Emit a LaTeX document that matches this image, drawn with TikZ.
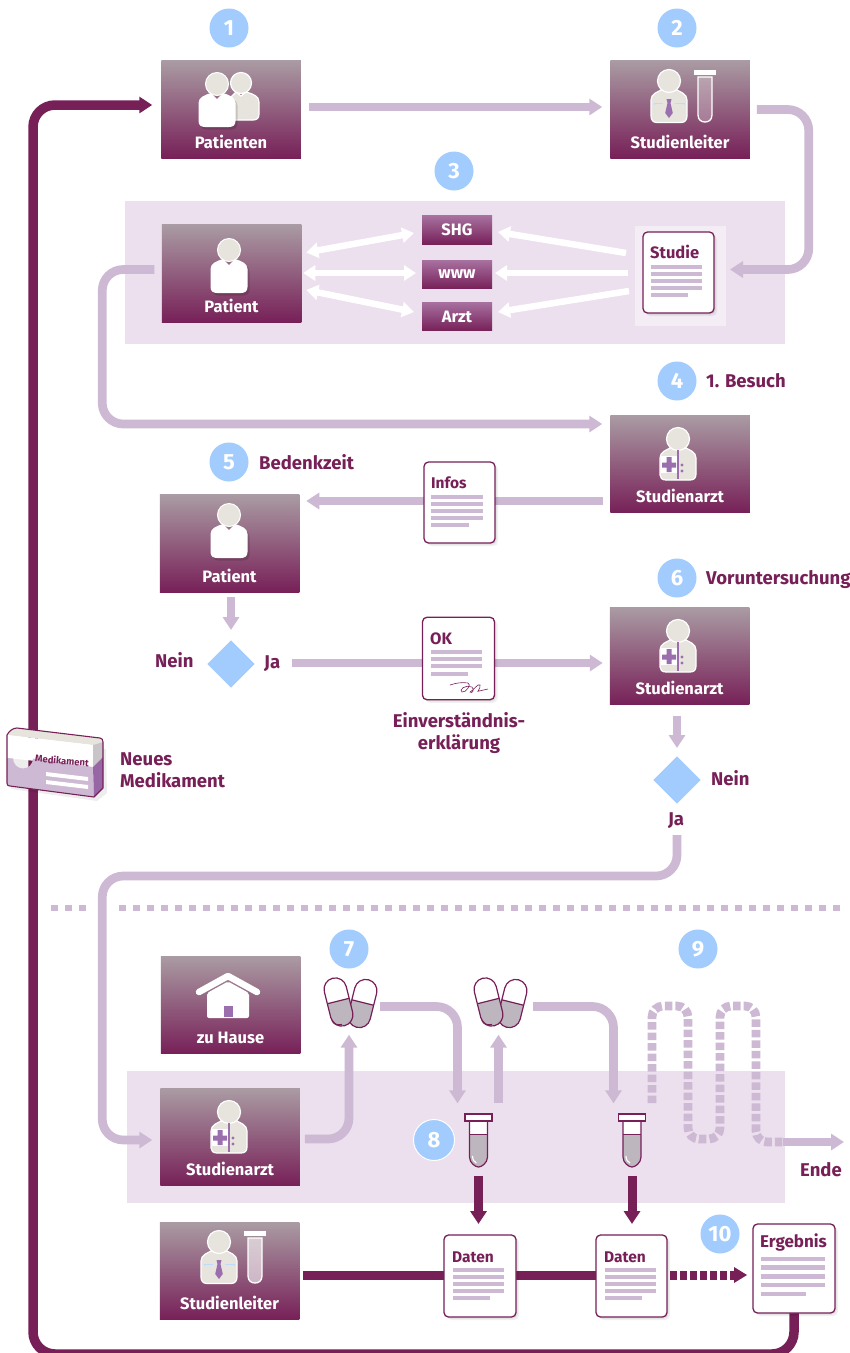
\documentclass[tikz,border=0pt]{standalone}
\usepackage{fontspec}
\setmainfont{Fira Sans}
\usetikzlibrary{arrows.meta,calc}
\pgfdeclarelayer{panels}
\pgfdeclarelayer{links}
\pgfsetlayers{panels,links,main}
\definecolor{plum}{HTML}{772058}
\definecolor{boxtop}{HTML}{AA9BA3}
\definecolor{smalltop}{HTML}{A7719F}
\definecolor{lilac}{HTML}{CDB9D3}
\definecolor{panel}{HTML}{ECDFEE}
\definecolor{panellight}{HTML}{F4EDF6}
\definecolor{skyblue}{HTML}{A2CCFE}
\definecolor{beige}{HTML}{E6E4DC}
\definecolor{iconpurple}{HTML}{9B6FAE}
\definecolor{liquid}{HTML}{BDB6BE}
\newcommand{\bodypath}{(-18.5,37) -- (-18.5,19) .. controls (-18.5,13) and (-12,11) .. (-6,9) -- (0,15) -- (6,9) .. controls (12,11) and (18.5,13) .. (18.5,19) -- (18.5,37) .. controls (18.5,41) and (16,43) .. (12,43) -- (-12,43) .. controls (-16,43) and (-18.5,41) .. (-18.5,37) -- cycle}
\tikzset{
 x=1pt,y=-1pt,
 pbox/.style={shade,top color=boxtop,bottom color=plum,minimum width=139.5pt,minimum height=97.5pt,inner sep=0pt,outer sep=0pt,
   text=white,font=\fontsize{16.5}{18}\selectfont\bfseries,text height=87.5pt,text depth=10pt,anchor=center},
 sbox/.style={shade,top color=smalltop,bottom color=plum,minimum width=70pt,minimum height=28.5pt,inner sep=0pt,outer sep=0pt,
   text=white,font=\fontsize{16.5}{17}\selectfont\bfseries},
 numc/.style={circle,fill=skyblue,minimum size=39pt,inner sep=0pt,text=white,font=\fontsize{22}{24}\selectfont\bfseries},
 lbl/.style={text=plum,font=\fontsize{18.5}{21.5}\selectfont\bfseries,inner sep=0pt},
 doctitle/.style={text=plum,font=\fontsize{15.5}{18}\selectfont\bfseries,inner sep=0pt,anchor=base west},
 paper/.style={draw=plum,line width=1.3pt,fill=white,rounded corners=4.5pt,inner sep=0pt,outer sep=0pt,
   preaction={draw=none,fill=black,fill opacity=.06,transform canvas={xshift=3pt,yshift=-3pt}},
   preaction={draw=none,fill=black,fill opacity=.07,transform canvas={xshift=1.5pt,yshift=-1.5pt}}},
 choicebox/.style={fill=skyblue,minimum size=33.5pt,rotate=45,inner sep=0pt},
 lightarrow/.style={draw=lilac,line width=8.7pt,-{Triangle[length=13pt,width=16pt]}},
 lightbar/.style={draw=lilac,line width=8.7pt},
 darkarrow/.style={draw=plum,line width=9pt,-{Triangle[length=13pt,width=16pt]}},
 darkbar/.style={draw=plum,line width=9pt},
 whitearrow/.style={draw=white,line width=6.5pt,-{Triangle[length=12pt,width=15pt]}},
 whitedouble/.style={draw=white,line width=6.5pt,{Triangle[length=12pt,width=15pt]}-{Triangle[length=12pt,width=15pt]}},
 personshape/.pic={
  \fill[black,opacity=.14,shift={(2,2.5)}] \bodypath;
  \fill[white] \bodypath;
  \fill[beige,draw=white,line width=1pt] (0,0) circle (11.5pt);
 },
 backperson/.pic={
  \fill[beige,draw=white,line width=1.2pt] (-13,30) -- (-13,17) -- (-5,9) -- (0,13) -- (5,9) .. controls (12,11) and (18,13) .. (18,19) -- (18,31) .. controls (18,35) and (16,37) .. (12,37) -- (-11,37) -- cycle;
  \fill[beige,draw=white,line width=1.2pt] (0,0) circle (10.5pt);
 },
 doctorshape/.pic={
  \fill[beige,draw=white,line width=1.2pt] (-18,36) -- (-18,19) .. controls (-18,13) and (-12,11) .. (-5.5,8) -- (5.5,8) .. controls (12,11) and (18,13) .. (18,19) -- (18,35) .. controls (18,39) and (16,41) .. (12,41) -- (-12,41) .. controls (-16,41) and (-18,39) .. (-18,36) -- cycle;
  \fill[beige,draw=white,line width=1.2pt] (0,0) circle (11.5pt);
  \draw[iconpurple,line width=2pt] (0,11) -- (0,40);
  \fill[white] (-17,17) rectangle (-1,34);
  \fill[iconpurple] (-16,23.5) rectangle (-2,28.5) (-11.5,18) rectangle (-6.5,33);
  \fill[iconpurple] (4,26) circle (1.7pt) (4,32) circle (1.7pt);
 },
 leadershape/.pic={
  \fill[beige,draw=white,line width=1.2pt] (-18,35) -- (-18,19) .. controls (-18,13) and (-12,11) .. (-5.5,8) -- (5.5,8) .. controls (12,11) and (18,13) .. (18,19) -- (18,35) .. controls (18,39) and (16,41.5) .. (12,41.5) -- (-12,41.5) .. controls (-16,41.5) and (-18,39) .. (-18,35) -- cycle;
  \fill[beige,draw=white,line width=1.2pt] (0,0) circle (11.5pt);
  \draw[skyblue!70!white,line width=.7pt] (-15,24) -- (-15,22) -- (-6,22) (15,24) -- (15,22) -- (6,22);
  \fill[iconpurple] (-2.5,18) -- (2.5,18) -- (1.5,22) -- (3.8,32) -- (0,37) -- (-3.8,32) -- (-1.5,22) -- cycle;
 },
 testtube/.pic={
  \fill[white] (-11,0) rectangle (11,5);
  \fill[white,opacity=.25] (-7,7) -- (7,7) -- (7,45) .. controls (7,50) and (3.5,52) .. (0,52) .. controls (-3.5,52) and (-7,50) .. (-7,45) -- cycle;
  \draw[white,line width=1.3pt] (-7,7) -- (7,7) -- (7,45) .. controls (7,50) and (3.5,52) .. (0,52) .. controls (-3.5,52) and (-7,50) .. (-7,45) -- cycle;
 }
}
\newcommand{\doclines}[6]{% x-left, x-right, short-right, first y, spacing, thick
 \foreach \k in {0,1,2,3}{\fill[lilac] (#1,#4+\k*#5-#6/2) rectangle (#2,#4+\k*#5+#6/2);}
 \fill[lilac] (#1,#4+4*#5-#6/2) rectangle (#3,#4+4*#5+#6/2);
}
\newcommand{\pills}[2]{%
 \begin{scope}[shift={(#1,#2)}]
 \foreach \px/\py/\rt in {12.5/0.5/-14,-11.5/-1/14}{
  \begin{scope}[shift={(\px,\py)},rotate=\rt]
   \fill[white] (-11.25,-24.5) [rounded corners=11.25pt] rectangle (11.25,24.5);
   \begin{scope}
    \clip (-11.25,-24.5) [rounded corners=11.25pt] rectangle (11.25,24.5);
    \fill[liquid] (-12,-1) rectangle (12,25);
   \end{scope}
   \draw[plum,line width=1.2pt] (-11.25,-24.5) [rounded corners=11.25pt] rectangle (11.25,24.5);
   \draw[plum,line width=1.2pt] (-11.25,-1) -- (11.25,-1);
  \end{scope}}
 \draw[plum,line width=1.3pt] (-18,17) .. controls (-16,22) and (-12,22.5) .. (-8,21.5);
 \end{scope}}
\newcommand{\tubeicon}[2]{%
 \begin{scope}[shift={(#1,#2)}]
  \fill[white] (-9,7) -- (9,7) -- (9,43) .. controls (9,49) and (3,53) .. (0,53) .. controls (-3,53) and (-9,49) .. (-9,43) -- cycle;
  \fill[liquid] (-9,20) -- (9,20) -- (9,43) .. controls (9,49) and (3,53) .. (0,53) .. controls (-3,53) and (-9,49) .. (-9,43) -- cycle;
  \draw[white,line width=1.1pt] (-6,42) .. controls (-6,46) and (-4,48) .. (-2,49);
  \draw[plum,line width=1.2pt] (-9,7) -- (-9,43) .. controls (-9,49) and (-3,53) .. (0,53) .. controls (3,53) and (9,49) .. (9,43) -- (9,7);
  \draw[plum,line width=1pt] (-9,20) -- (9,20);
  \draw[plum,line width=1.2pt,fill=white] (-13.5,0) rectangle (13.5,7);
 \end{scope}}
\begin{document}
\begin{tikzpicture}
\useasboundingbox (0,0) rectangle (850,1353);
\begin{pgfonlayer}{panels}
\fill[white] (0,0) rectangle (850,1353);
\fill[panel] (125,201) rectangle (785,344);
\fill[panel] (127,1071) rectangle (785,1203);
\fill[panellight] (635,226) rectangle (726,326);
\draw[lilac,line width=6pt,dash pattern=on 7pt off 7pt] (51,908) -- (87,908);
\draw[lilac,line width=6pt,dash pattern=on 7pt off 7pt] (118.5,908) -- (846,908);
\end{pgfonlayer}
% boxes
\node[pbox] (patienten) at (231,109.5) {Patienten};
\node[pbox] (leader1) at (680,109.5) {Studienleiter};
\node[pbox] (patient3) at (231.5,273.5) {Patient};
\node[pbox] (arzt4) at (680,464) {Studienarzt};
\node[pbox] (patient5) at (229.5,543.5) {Patient};
\node[pbox] (arzt6) at (679.5,656) {Studienarzt};
\node[pbox] (home) at (230.5,1005) {zu Hause};
\node[pbox] (arzt7) at (230,1137) {Studienarzt};
\node[pbox] (leader2) at (229.5,1271) {Studienleiter};
\node[sbox] (shg) at (457,230) {SHG};
\node[sbox] (www) at (457,274.5) {www};
\node[sbox] (arzt) at (457,316.5) {Arzt};
% documents
\node[paper,minimum width=71pt,minimum height=81pt] (studie) at (678.5,272.5) {};
\node[paper,minimum width=71pt,minimum height=81pt] (infos) at (459.5,502.5) {};
\node[paper,minimum width=72pt,minimum height=82.5pt] (ok) at (458.5,658.5) {};
\node[paper,minimum width=72pt,minimum height=82pt] (daten1) at (480,1276) {};
\node[paper,minimum width=71pt,minimum height=82pt] (daten2) at (631.5,1276) {};
\node[paper,minimum width=82pt,minimum height=89pt] (ergebnis) at (794,1268.5) {};
% decisions
\node[choicebox] (d1) at (231,664) {};
\node[choicebox] (d2) at (677,780) {};
% free ends
\coordinate (ende) at (844,1142);
\coordinate (loopstart) at (652,1103);
\coordinate (loopend) at (783,1142);
% pills and tubes anchors
\node[minimum width=52pt,minimum height=49pt,inner sep=0pt] (pill1) at (350,1003) {};
\node[minimum width=52pt,minimum height=49pt,inner sep=0pt] (pill2) at (500,1003) {};
\node[minimum width=27pt,minimum height=54pt,inner sep=0pt] (tube1) at (478.5,1140.5) {};
\node[minimum width=27pt,minimum height=54pt,inner sep=0pt] (tube2) at (632,1140.5) {};
\begin{pgfonlayer}{links}
% light connectors
\draw[lightarrow] ([shift={(8,-2.5)}]patienten.east) -- ([shift={(-8,-2.5)}]leader1.west);
\draw[lightarrow,rounded corners=21pt] ([shift={(7,0)}]leader1.east) -- ++(52,0) |- ([shift={(16,-3)}]studie.east);
\draw[lightarrow,rounded corners=21pt] ([shift={(-7.5,-4)}]patient3.west) -- ++(-52,0) |- ([shift={(-8,-40)}]arzt4.west);
\draw[lightbar] ([shift={(-7,37)}]arzt4.west) -- ([shift={(0,-1.5)}]infos.east);
\draw[lightarrow] ([shift={(0,-1.5)}]infos.west) -- ([shift={(7,-42.5)}]patient5.east);
\draw[lightarrow] ([shift={(1.5,5)}]patient5.south) -- ([shift={(0,-34)}]d1.center);
\draw[lightbar] ([shift={(61,-1)}]d1.center) -- ([shift={(0,4.5)}]ok.west);
\draw[lightarrow] ([shift={(0,4.5)}]ok.east) -- ([shift={(-7,7)}]arzt6.west);
\draw[lightarrow] ([shift={(-2.5,11)}]arzt6.south) -- ([shift={(0,-32)}]d2.center);
\draw[lightarrow,rounded corners=21pt] ([shift={(0,55)}]d2.center) |- ([shift={(-58,-261)}]arzt7.west) |- ([shift={(-8,3)}]arzt7.west);
\draw[lightarrow,rounded corners=21pt] ([shift={(5,2)}]arzt7.east) -| ([shift={(-1,7)}]pill1.south);
\draw[lightarrow,rounded corners=21pt] ([shift={(4,3.5)}]pill1.east) -| ([shift={(-21,-10)}]tube1.north);
\draw[lightarrow] ([shift={(20,-10.5)}]tube1.north) -- ([shift={(-1.5,7)}]pill2.south);
\draw[lightarrow,rounded corners=21pt] ([shift={(7,3.5)}]pill2.east) -| ([shift={(-18.5,-10)}]tube2.north);
\draw[lilac,line width=8.7pt,dash pattern=on 7.5pt off 3pt,rounded corners=11pt]
 (loopstart) -- (652,1006) -- (688,1006) -- (688,1139) -- (720,1139) -- (720,1006) -- (756,1006) -- (756,1142) -- (loopend);
\draw[lightarrow] (loopend) -- (ende);
% dark connectors
\draw[darkarrow] ([shift={(0,8)}]tube1.south) -- ([shift={(-1.5,-11)}]daten1.north);
\draw[darkarrow] ([shift={(0,8)}]tube2.south) -- ([shift={(0.5,-11)}]daten2.north);
\draw[darkbar] ([shift={(4,4)}]leader2.east) -- ([shift={(0,-1)}]daten1.west);
\draw[darkbar] ([shift={(0,-1)}]daten1.east) -- ([shift={(0,-1)}]daten2.west);
\draw[plum,line width=9pt,dash pattern=on 6.5pt off 3.5pt] ([shift={(3,-1)}]daten2.east) -- ++(66,0);
\draw[plum,line width=0pt,-{Triangle[length=13pt,width=16pt]}] ([shift={(67,-1)}]daten2.east) -- ([shift={(-6,6.5)}]ergebnis.west);
\draw[plum,line width=9.5pt,rounded corners=22pt,-{Triangle[length=13pt,width=16pt]}] (ergebnis.south) -- (794,1354) -| (33,105) -- ([shift={(-9,-4.5)}]patienten.west);
% white connectors
\draw[whitedouble] ([shift={(5,-21)}]patient3.east) -- ([shift={(-8,3)}]shg.west);
\draw[whitedouble] ([shift={(2,-0.5)}]patient3.east) -- ([shift={(-6,-1.5)}]www.west);
\draw[whitedouble] ([shift={(5,16.5)}]patient3.east) -- ([shift={(-8,-4.5)}]arzt.west);
\draw[whitearrow] ([shift={(-17,-19.5)}]studie.west) -- ([shift={(6,2)}]shg.east);
\draw[whitearrow] ([shift={(-15,0.5)}]studie.west) -- ([shift={(3,-1.5)}]www.east);
\draw[whitearrow] ([shift={(-14,18.5)}]studie.west) -- ([shift={(6,-4.5)}]arzt.east);
\end{pgfonlayer}
% document contents
\node[doctitle,font=\fontsize{16.5}{18}\selectfont\bfseries] (tstudie) at (650,258) {Studie};
\doclines{651}{702}{688}{267}{7}{4}
\node[doctitle] (tinfos) at (431,488) {Infos};
\doclines{431}{483}{469}{497}{7}{4}
\node[doctitle,font=\fontsize{16.5}{18}\selectfont\bfseries] (tok) at (430,644) {OK};
\foreach \yy in {652,659,666}{\fill[lilac] (431,\yy-2) rectangle (482,\yy+2);}
\fill[lilac] (431,672) rectangle (468,676);
\draw[plum,line width=.6pt] (450,685) .. controls (456,683) and (462,682) .. (468,683) .. controls (472,684) and (466,693) .. (462,692) .. controls (458,690) and (466,684) .. (472,687) .. controls (475,690) and (472,694) .. (470,692) .. controls (474,690) and (478,683) .. (480,685) .. controls (481,688) and (476,693) .. (479,691) -- (488,689);
\node[doctitle] (tdat1) at (452,1262) {Daten};
\doclines{453}{504}{490}{1269.5}{7.1}{4}
\node[doctitle] (tdat2) at (604,1262) {Daten};
\doclines{605}{656}{642}{1269.5}{7.1}{4}
\node[doctitle,font=\fontsize{17}{18}\selectfont\bfseries] (terg) at (760,1247) {Ergebnis};
\doclines{761}{825}{806}{1259}{8.7}{4.5}
% icons
\pic at (229,250) {personshape};
\pic at (229,515) {personshape};
\pic at (241,83) {backperson};
\pic at (217,84) {personshape};
\pic at (678,439) {doctorshape};
\pic at (678,631) {doctorshape};
\pic at (229,1112) {doctorshape};
\pic at (669,81) {leadershape};
\pic at (705,70) {testtube};
\pic at (219,1242) {leadershape};
\pic at (255,1231) {testtube};
\fill[white,opacity=.45] (248,1238) -- (262,1238) -- (262,1276) .. controls (262,1281) and (258.5,1283) .. (255,1283) .. controls (251.5,1283) and (248,1281) .. (248,1276) -- cycle;
% house
\fill[white,rounded corners=2pt] (207,1018) -- (207,993) -- (228,981.5) -- (249,993) -- (249,1018) -- cycle;
\draw[white,line width=6.5pt,line cap=round,line join=round] (199,992) -- (228,976) -- (257,992);
\fill[iconpurple] (224,1006) rectangle (233,1017);
% pills, tubes
\pills{350}{1003}
\pills{500}{1003}
\tubeicon{478.5}{1114}
\tubeicon{632}{1114}
% number circles
\node[numc] (n1) at (229,28) {1};
\node[numc] (n2) at (677,28) {2};
\node[numc] (n3) at (454,171) {3};
\node[numc] (n4) at (677,381) {4};
\node[numc] (n5) at (229,462) {5};
\node[numc] (n6) at (677,578) {6};
\node[numc] (n7) at (349,949) {7};
\node[numc,draw=white,line width=1pt,minimum size=41pt] (n8) at (434,1140) {8};
\node[numc] (n9) at (698,949) {9};
\node[numc] (n10) at (720,1234) {10};
% labels
\node[lbl,anchor=base west] (besuch) at (706,387) {1. Besuch};
\node[lbl,anchor=base west] (bedenk) at (259,469.5) {Bedenkzeit};
\node[lbl,anchor=base west] (vor) at (706,584) {Voruntersuchung};
\node[lbl,anchor=base west] (nein1) at (155,667) {Nein};
\node[lbl,anchor=base west] (ja1) at (264,668) {Ja};
\node[lbl,align=center] (einv) at (459,733) {Einverständnis-\\erklärung};
\node[lbl,anchor=base west] (nein2) at (711,785) {Nein};
\node[lbl,anchor=base] (ja2) at (676,825) {Ja};
\node[lbl,anchor=base west] (tende) at (800,1176) {Ende};
\node[lbl,align=left,anchor=west] (neues) at (120,770) {Neues\\Medikament};
% medication box
\fill[black,opacity=.07] (10,738) -- (106,749) -- (107,793) -- (97,801) -- (11,789) -- cycle;
\fill[beige] (7,735) .. controls (9,731) and (13,728) .. (17,728) -- (100,738) .. controls (102,738) and (103,740) .. (103,742) -- (93,745) -- cycle;
\fill[white] (7,735) -- (93,745) -- (93,767) -- (7,758) -- cycle;
\fill[lilac] (7,758) -- (13,758.5) arc[start angle=180,end angle=360,radius=10pt] -- (93,767) -- (94,797) -- (10,786) .. controls (8,786) and (7,785) .. (7,783) -- cycle;
\fill[liquid!70!beige] (93,745) -- (103,742) -- (103,757) -- (93,767) -- cycle;
\fill[iconpurple!90!plum] (93,767) -- (103,757) -- (103,788) -- (94,797) -- cycle;
\draw[plum,line width=1.1pt,line join=round] (7,735) .. controls (9,731) and (13,728) .. (17,728) -- (100,738) .. controls (102,738) and (103,740) .. (103,742) -- (103,788) -- (94,797) -- (10,786) .. controls (8,786) and (7,785) .. (7,783) -- cycle;
\node[text=plum,font=\fontsize{9.5}{11}\selectfont\bfseries,rotate=-5,inner sep=0pt] (medik) at (62,760.5) {Medikament};
\fill[white] (46,772) -- (88,777) -- (88,781) -- (46,776) -- cycle;
\fill[white] (46,780) -- (88,785) -- (88,789) -- (46,784) -- cycle;
\end{tikzpicture}
\end{document}
